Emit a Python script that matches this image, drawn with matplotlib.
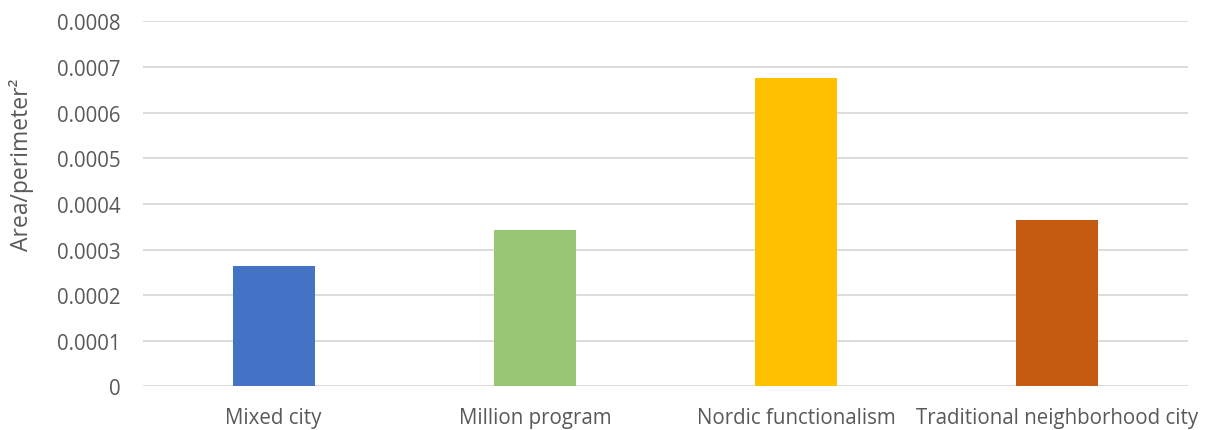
import matplotlib
matplotlib.use("Agg")
import matplotlib.pyplot as plt
import numpy as np

# Shape ratio per urban type
categories = ["Mixed city", "Million program", "Nordic functionalism", "Traditional neighborhood city"]
values = [0.000264, 0.000343, 0.000676, 0.000365]
colors = ["#4472C4", "#97C675", "#FFC000", "#C55A11"]
yticks = [0, 0.0001, 0.0002, 0.0003, 0.0004, 0.0005, 0.0006, 0.0007, 0.0008]
ytick_labels = ["0", "0.0001", "0.0002", "0.0003", "0.0004", "0.0005", "0.0006", "0.0007", "0.0008"]

plt.rcParams['font.family'] = ['Open Sans', 'DejaVu Sans']
text_col = "#595959"

fig = plt.figure(figsize=(12.10, 4.31), dpi=100)
ax = fig.add_axes([0.1182, 0.101, 0.8636, 0.847])

x = np.arange(len(categories))
ax.bar(x, values, width=0.314, color=colors, zorder=3)

ax.set_xlim(-0.5, len(categories) - 0.5)
ax.set_ylim(0, 0.0008)
ax.set_yticks(yticks, labels=ytick_labels)
ax.set_xticks(x, labels=categories)
ax.tick_params(axis='both', length=0, colors=text_col, labelsize=14.8)
ax.tick_params(axis='y', pad=16)
ax.tick_params(axis='x', pad=15)

ax.grid(axis='y', color="#D9D9D9", linewidth=1.3, zorder=0)
for s in ax.spines.values():
    s.set_visible(False)

ax.set_ylabel("Area/perimeter²", fontsize=16.5, color=text_col)
ax.yaxis.set_label_coords(-0.104, 0.61)

fig.savefig("out.png", dpi=100)
